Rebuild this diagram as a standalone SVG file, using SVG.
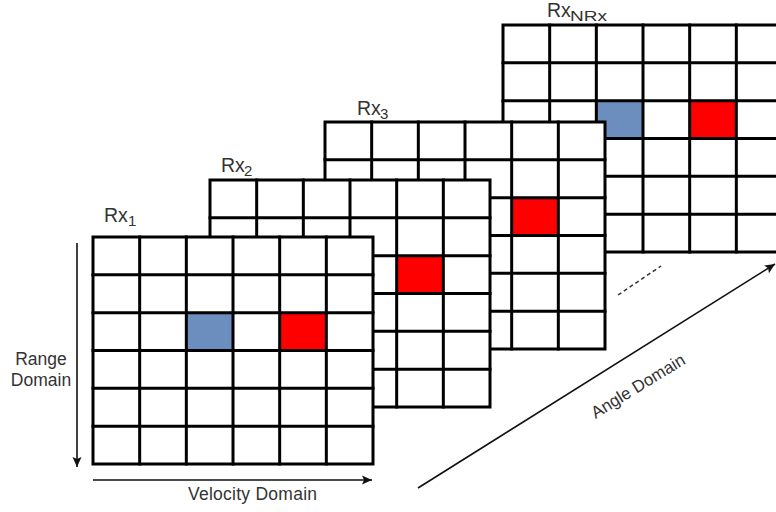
<svg xmlns="http://www.w3.org/2000/svg" width="776" height="512" viewBox="0 0 776 512">
  <defs>
    <style>
      .bg { fill: #ffffff; }
      .grid { fill: #ffffff; stroke: #000000; stroke-width: 3; }
      .lines { fill: none; stroke: #000000; stroke-width: 3; stroke-linecap: square; }
      .blue { fill: #6c8ebf; }
      .red { fill: #ff0000; }
      .lbl { font-family: "Liberation Sans", Arial, sans-serif; fill: #333333; }
      .rx { font-size: 19.5px; }
      .sub { font-size: 15px; }
      .axis { stroke: #111111; stroke-width: 1.6; fill: none; }
    </style>
    <marker id="head" markerUnits="userSpaceOnUse" markerWidth="12" markerHeight="12" viewBox="0 0 12 12" refX="11" refY="6" orient="auto">
      <path d="M1,1.5 L11,6 L1,10.5 L3,6 Z" fill="#111111"/>
    </marker>
  </defs>

  <rect class="bg" x="0" y="0" width="776" height="512"/>

  <!-- receiver NRx (back) -->
  <g id="rx-nrx">
    <rect class="grid" x="503" y="25" width="280" height="227"/>
    <rect class="blue" x="596.33" y="100.67" width="46.67" height="37.83"/>
    <rect class="red" x="689.67" y="100.67" width="46.67" height="37.83"/>
    <path class="lines" transform="translate(503,25)" d="M46.67,0 V227 M93.33,0 V227 M140,0 V227 M186.67,0 V227 M233.33,0 V227 M0,37.83 H280 M0,75.67 H280 M0,113.5 H280 M0,151.33 H280 M0,189.17 H280"/>
    <text class="lbl rx" x="547" y="17">Rx</text>
    <text class="lbl sub" x="570" y="21" textLength="37" lengthAdjust="spacingAndGlyphs">NRx</text>
  </g>

  <!-- receiver 3 -->
  <g id="rx3">
    <rect class="grid" x="325" y="122" width="280" height="227"/>
    <rect class="red" x="511.67" y="197.67" width="46.67" height="37.83"/>
    <path class="lines" transform="translate(325,122)" d="M46.67,0 V227 M93.33,0 V227 M140,0 V227 M186.67,0 V227 M233.33,0 V227 M0,37.83 H280 M0,75.67 H280 M0,113.5 H280 M0,151.33 H280 M0,189.17 H280"/>
    <text class="lbl rx" x="357" y="115">Rx</text>
    <text class="lbl sub" x="380" y="119">3</text>
  </g>

  <!-- receiver 2 -->
  <g id="rx2">
    <rect class="grid" x="210" y="180" width="280" height="227"/>
    <rect class="red" x="396.67" y="255.67" width="46.67" height="37.83"/>
    <path class="lines" transform="translate(210,180)" d="M46.67,0 V227 M93.33,0 V227 M140,0 V227 M186.67,0 V227 M233.33,0 V227 M0,37.83 H280 M0,75.67 H280 M0,113.5 H280 M0,151.33 H280 M0,189.17 H280"/>
    <text class="lbl rx" x="221" y="172">Rx</text>
    <text class="lbl sub" x="244" y="176">2</text>
  </g>

  <!-- receiver 1 (front) -->
  <g id="rx1">
    <rect class="grid" x="93" y="237" width="280" height="227"/>
    <rect class="blue" x="186.33" y="312.67" width="46.67" height="37.83"/>
    <rect class="red" x="279.67" y="312.67" width="46.67" height="37.83"/>
    <path class="lines" transform="translate(93,237)" d="M46.67,0 V227 M93.33,0 V227 M140,0 V227 M186.67,0 V227 M233.33,0 V227 M0,37.83 H280 M0,75.67 H280 M0,113.5 H280 M0,151.33 H280 M0,189.17 H280"/>
    <text class="lbl rx" x="104" y="222">Rx</text>
    <text class="lbl sub" x="128" y="226">1</text>
  </g>

  <!-- axes -->
  <g id="connectors">
    <line class="axis" x1="77" y1="243" x2="77" y2="467" marker-end="url(#head)"/>
    <line class="axis" x1="93" y1="480" x2="372" y2="480" marker-end="url(#head)"/>
    <line class="axis" x1="418" y1="488" x2="775" y2="264" stroke-width="1.4" marker-end="url(#head)"/>
    <line x1="618" y1="295" x2="661" y2="266" stroke="#333333" stroke-width="1.5" stroke-dasharray="4 3"/>
  </g>

  <!-- axis labels -->
  <g id="axis-labels">
    <text class="lbl" x="41" y="365" font-size="17.5" text-anchor="middle">Range</text>
    <text class="lbl" x="41" y="386" font-size="17.5" text-anchor="middle">Domain</text>
    <text class="lbl" x="188" y="500" font-size="17.5" textLength="129">Velocity Domain</text>
    <text class="lbl" x="0" y="0" font-size="17" fill="#444444" text-anchor="middle" transform="translate(641,391) rotate(-31.5)">Angle Domain</text>
  </g>
</svg>
